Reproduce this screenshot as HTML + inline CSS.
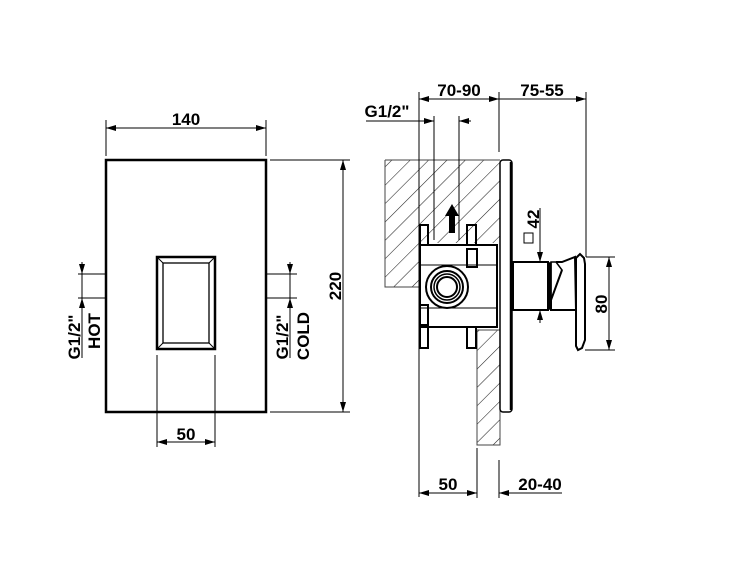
<!DOCTYPE html>
<html><head><meta charset="utf-8"><style>
html,body{margin:0;padding:0;background:#fff;}
svg{display:block;}
text{font-family:"Liberation Sans",Arial,sans-serif;font-weight:bold;fill:#000;}
</style></head><body>
<svg width="750" height="563" viewBox="0 0 750 563" xmlns="http://www.w3.org/2000/svg">
<defs>
<marker id="a" viewBox="0 0 10 6" refX="10" refY="3" markerWidth="10" markerHeight="6" orient="auto-start-reverse" markerUnits="userSpaceOnUse"><path d="M0,0L10,3L0,6z" fill="#000"/></marker>
<pattern id="h" patternUnits="userSpaceOnUse" width="13" height="13" patternTransform="rotate(45)"><line x1="0" y1="0" x2="0" y2="13" stroke="#222" stroke-width="1.1"/></pattern>
</defs>
<g stroke="#000" fill="none" stroke-width="1">
<rect x="106" y="160" width="160" height="252" stroke-width="2.5"/>
<rect x="157" y="257" width="58" height="92" stroke-width="2.5"/>
<rect x="163" y="263" width="46" height="80" stroke-width="1.3"/>
<line x1="157" y1="257" x2="163" y2="263"/><line x1="215" y1="257" x2="209" y2="263"/>
<line x1="157" y1="349" x2="163" y2="343"/><line x1="215" y1="349" x2="209" y2="343"/>
<line x1="106" y1="120" x2="106" y2="156"/><line x1="266" y1="120" x2="266" y2="156"/>
<line x1="106" y1="128" x2="266" y2="128" marker-start="url(#a)" marker-end="url(#a)"/>
<line x1="270" y1="160" x2="350" y2="160"/><line x1="270" y1="412" x2="350" y2="412"/>
<line x1="343" y1="160" x2="343" y2="412" marker-start="url(#a)" marker-end="url(#a)"/>
<line x1="157" y1="355" x2="157" y2="447"/><line x1="215" y1="355" x2="215" y2="447"/>
<line x1="157" y1="442" x2="215" y2="442" marker-start="url(#a)" marker-end="url(#a)"/>
<line x1="78" y1="274" x2="106" y2="274"/><line x1="78" y1="298" x2="106" y2="298"/>
<line x1="82" y1="262" x2="82" y2="274" marker-end="url(#a)"/>
<line x1="82" y1="358" x2="82" y2="298" marker-end="url(#a)"/>
<line x1="82" y1="274" x2="82" y2="298"/>
<line x1="266" y1="274" x2="297" y2="274"/><line x1="266" y1="298" x2="297" y2="298"/>
<line x1="290" y1="262" x2="290" y2="274" marker-end="url(#a)"/>
<line x1="290" y1="358" x2="290" y2="298" marker-end="url(#a)"/>
<line x1="290" y1="274" x2="290" y2="298"/>

<path d="M385,160 H500 V243 H420 V287 H385 Z" fill="url(#h)" stroke="none"/>
<path d="M385,160 H500 M385,160 V287 H420" stroke="#444"/>
<path d="M477,330 H500 V445 H477 Z" fill="url(#h)" stroke="#444"/>
<rect x="500" y="160" width="12" height="252" rx="3" stroke-width="1.5"/>
<line x1="511" y1="162" x2="511" y2="410" stroke-width="2.5"/>
<rect x="420" y="245" width="77" height="82" stroke-width="2"/>
<line x1="420" y1="265" x2="497" y2="265"/><line x1="420" y1="308" x2="497" y2="308"/>
<rect x="420" y="225" width="8" height="20" stroke-width="2"/>
<rect x="467" y="225" width="9" height="20" stroke-width="2"/>
<rect x="420" y="327" width="8" height="21" stroke-width="2"/>
<rect x="467" y="327" width="9" height="21" stroke-width="2"/>
<rect x="467" y="249" width="10" height="18" stroke-width="2"/>
<rect x="420" y="305" width="8" height="20" stroke-width="2"/>
<circle cx="447" cy="287" r="21" stroke-width="2"/>
<circle cx="447" cy="287" r="16" stroke-width="2"/>
<circle cx="447" cy="287" r="13" stroke-width="1.5"/>
<circle cx="447" cy="287" r="10" stroke-width="2"/>
<rect x="513" y="262" width="35" height="48" stroke-width="2"/>
<rect x="548" y="263" width="3" height="46" stroke-width="1.5" fill="#000"/>
<path d="M551,262 L556,262 L562,270 L551,300 Z" stroke-width="1.5"/>
<path d="M556,262 L562,262 L575,257 L576,310 L551,310 L551,300 L562,270" stroke-width="2"/>
<path d="M576,258 L580,254 L584,258 L585,264 L585,340 L582,348 L578,350 L576,346 Z" stroke-width="2"/>
<path d="M452,204 L445,216 L449,216 L449,233 L455,233 L455,216 L459,216 Z" fill="#000" stroke="none"/>
<line x1="419" y1="92" x2="419" y2="497"/>
<line x1="499" y1="92" x2="499" y2="152"/>
<line x1="586" y1="92" x2="586" y2="257"/>
<line x1="419" y1="99" x2="499" y2="99" marker-start="url(#a)" marker-end="url(#a)"/>
<line x1="499" y1="99" x2="586" y2="99" marker-end="url(#a)"/>
<line x1="366" y1="121" x2="434" y2="121" marker-end="url(#a)"/>
<line x1="471" y1="121" x2="459" y2="121" marker-end="url(#a)"/>
<line x1="434" y1="116" x2="434" y2="240"/>
<line x1="459" y1="116" x2="459" y2="240"/>
<line x1="586" y1="257" x2="615" y2="257"/><line x1="585" y1="350" x2="615" y2="350"/>
<line x1="609" y1="257" x2="609" y2="350" marker-start="url(#a)" marker-end="url(#a)"/>
<line x1="540" y1="208" x2="540" y2="262" marker-end="url(#a)"/>
<line x1="540" y1="323" x2="540" y2="310" marker-end="url(#a)"/>
<rect x="524" y="233" width="9" height="10"/>
<line x1="477" y1="448" x2="477" y2="498"/>
<line x1="499" y1="460" x2="499" y2="498"/>
<line x1="419" y1="493" x2="477" y2="493" marker-start="url(#a)" marker-end="url(#a)"/>
<line x1="562" y1="493" x2="499" y2="493" marker-end="url(#a)"/>
</g>
<g font-size="17">
<text x="186" y="125" text-anchor="middle">140</text>
<text x="186" y="440" text-anchor="middle">50</text>
<text transform="translate(341,286) rotate(-90)" text-anchor="middle">220</text>
<text transform="translate(80,337) rotate(-90)" text-anchor="middle">G1/2"</text>
<text transform="translate(100,331) rotate(-90)" text-anchor="middle">HOT</text>
<text transform="translate(288,337) rotate(-90)" text-anchor="middle">G1/2"</text>
<text transform="translate(309,336) rotate(-90)" text-anchor="middle">COLD</text>
<text x="459" y="96" text-anchor="middle">70-90</text>
<text x="542" y="96" text-anchor="middle">75-55</text>
<text x="387" y="117" text-anchor="middle">G1/2"</text>
<text transform="translate(539,219) rotate(-90)" text-anchor="middle">42</text>
<text transform="translate(607,304) rotate(-90)" text-anchor="middle">80</text>
<text x="448" y="490" text-anchor="middle">50</text>
<text x="540" y="490" text-anchor="middle">20-40</text>
</g>
</svg>
</body></html>
